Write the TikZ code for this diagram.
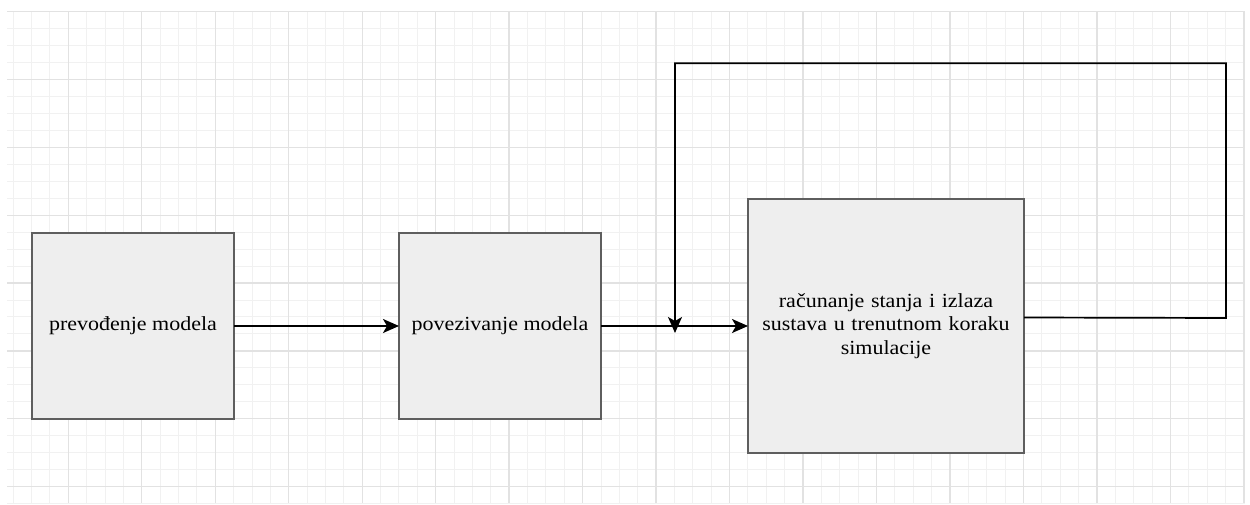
\documentclass[tikz,border=0pt]{standalone}
\usepackage{fontspec}
\setmainfont{Liberation Serif}[FakeStretch=1.1]
\usetikzlibrary{arrows.meta}
\definecolor{minorgrid}{HTML}{F1F1F1}
\definecolor{majorgrid}{HTML}{E2E2E2}
\definecolor{boxfill}{HTML}{EEEEEE}
\definecolor{boxline}{HTML}{5E5E5E}
\tikzset{
  stepbox/.style={draw=boxline, fill=boxfill, line width=1.5pt, outer sep=0pt,
    inner sep=4pt, align=center, font=\fontsize{20}{23.3}\selectfont},
  conn/.style={draw=black, line width=1.7pt,
    -{Stealth[length=16pt,width=14pt,inset=4pt]}}
}
\begin{document}
\begin{tikzpicture}[x=1pt,y=-1pt]
\useasboundingbox (0,0) rectangle (1250,505);
% grid
\foreach \k in {-3,...,64}{
  \draw[minorgrid, line width=1pt] ({68.3+18.37*\k},11.7) -- ({68.3+18.37*\k},503);
}
\foreach \k in {0,...,29}{
  \draw[minorgrid, line width=1pt] (7,{11.7+16.96*\k}) -- (1245,{11.7+16.96*\k});
}
\foreach \k in {0,4,...,64}{
  \draw[majorgrid, line width=1.4pt] ({68.3+18.37*\k},11.7) -- ({68.3+18.37*\k},503);
}
\foreach \k in {0,4,...,28}{
  \draw[majorgrid, line width=1.4pt] (7,{11.7+16.96*\k}) -- (1245,{11.7+16.96*\k});
}
% boxes
\node[stepbox, minimum width=202pt, minimum height=186pt] (b1) at (133,326) {prevođenje modela};
\node[stepbox, minimum width=202pt, minimum height=186pt] (b2) at (500,326) {povezivanje modela};
\node[stepbox, minimum width=276pt, minimum height=254pt, text width=260pt] (b3) at (886,326)
  {računanje stanja i izlaza\\sustava u trenutnom koraku\\simulacije};
% connectors
\draw[conn] (b1.east) -- (b2.west);
\draw[conn] (b2.east) -- (b3.west);
\coordinate (loopA) at (1226,318);
\coordinate (loopB) at (1226,63.3);
\coordinate (loopC) at (675,63.3);
\coordinate (loopEnd) at (675,333);
\draw[conn] ([yshift=8.5pt]b3.east) -- (loopA) -- (loopB) -- (loopC) -- (loopEnd);
\end{tikzpicture}
\end{document}
